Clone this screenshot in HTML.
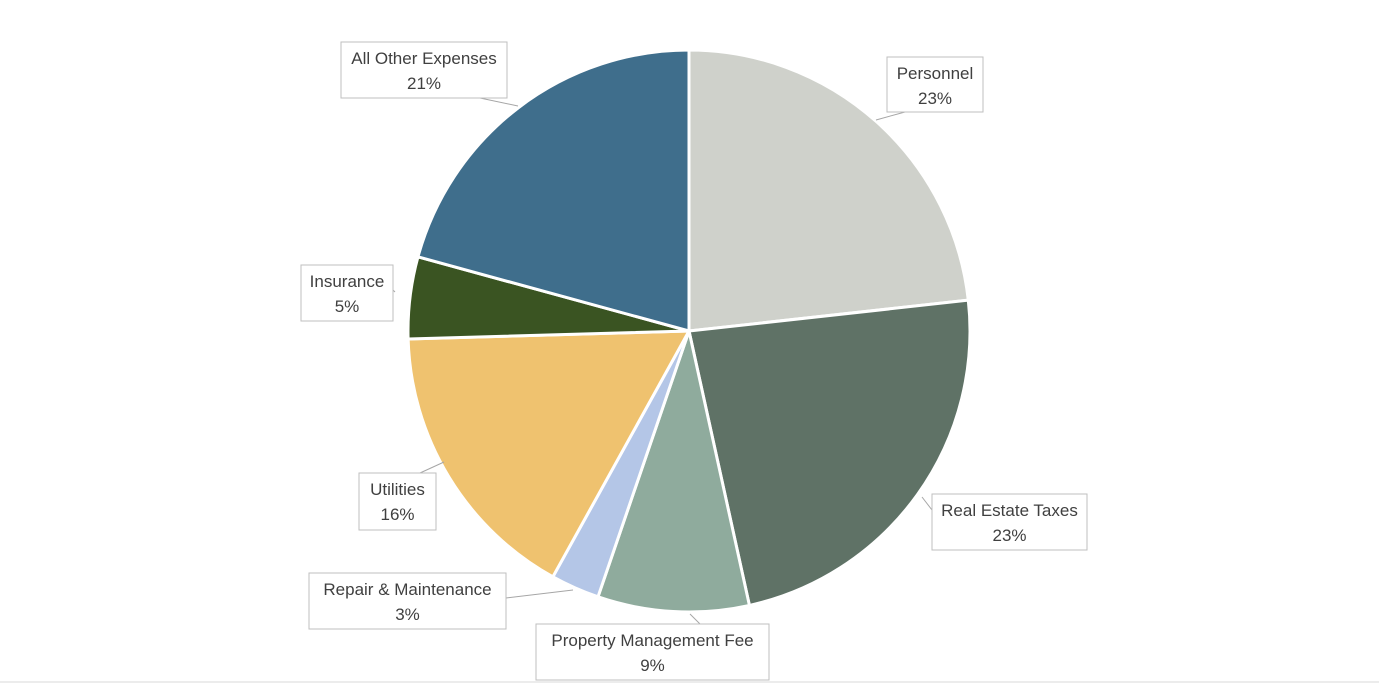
<!DOCTYPE html>
<html><head><meta charset="utf-8"><style>
body{margin:0;background:#fff;}
svg{display:block;font-family:"Liberation Sans",sans-serif;}
</style></head><body>
<svg id="chart" width="1379" height="683" viewBox="0 0 1379 683">
<line x1="0" y1="682" x2="1379" y2="682" stroke="#d9d9d9"/>
<g id="slices"></g><g id="labels"></g>
</svg>
<script>
const categories=["Personnel","Real Estate Taxes","Property Management Fee","Repair & Maintenance","Utilities","Insurance","All Other Expenses"];
const values=[23.25,23.3,8.7,2.8,16.5,4.7,20.75];
const pctLabels=["23%","23%","9%","3%","16%","5%","21%"];
const colors=["#cfd1cb","#5f7266","#8fab9d","#b4c6e7","#efc26f","#3a5422","#3f6e8c"];
const boxes=[[887,57,96,55],[932,494,155,56],[536,624,233,56],[309,573,197,56],[359,473,77,57],[301,265,92,56],[341,42,166,56]];
const leaders=[[905,112,876,120],[932,510,922,497],[700,624,690,614],[506,598,573,590],[420,473,444,462],[393,290,395,292],[480,98,518,106]];
const cx=689,cy=331,r=281,NS="http://www.w3.org/2000/svg";
const total=values.reduce((a,b)=>a+b,0);
const sg=document.getElementById('slices'),lg=document.getElementById('labels');
function pt(a){return [cx+r*Math.sin(a),cy-r*Math.cos(a)];}
let acc=0;
values.forEach((v,i)=>{
 const a0=acc/total*2*Math.PI;acc+=v;const a1=acc/total*2*Math.PI;
 const p0=pt(a0),p1=pt(a1);
 const p=document.createElementNS(NS,'path');
 p.setAttribute('d',`M${cx},${cy}L${p0[0]},${p0[1]}A${r},${r} 0 ${a1-a0>Math.PI?1:0} 1 ${p1[0]},${p1[1]}Z`);
 p.setAttribute('fill',colors[i]);p.setAttribute('stroke','#fff');p.setAttribute('stroke-width','3');
 
 
 sg.appendChild(p);
 const [bx,by,bw,bh]=boxes[i];
 const l=document.createElementNS(NS,'line');
 const L=leaders[i];
 l.setAttribute('x1',L[0]);l.setAttribute('y1',L[1]);l.setAttribute('x2',L[2]);l.setAttribute('y2',L[3]);
 l.setAttribute('stroke','#a6a6a6');
 
 
 lg.appendChild(l);
 const rc=document.createElementNS(NS,'rect');
 rc.setAttribute('x',bx);rc.setAttribute('y',by);rc.setAttribute('width',bw);rc.setAttribute('height',bh);
 rc.setAttribute('fill','#fff');rc.setAttribute('stroke','#bfbfbf');
 
 
 lg.appendChild(rc);
 [categories[i],pctLabels[i]].forEach((s,k)=>{
  const t=document.createElementNS(NS,'text');
  t.setAttribute('x',bx+bw/2);t.setAttribute('y',by+22+k*25);
  t.setAttribute('text-anchor','middle');t.setAttribute('font-size','17');t.setAttribute('fill','#404040');
  t.textContent=s;
  
  
  lg.appendChild(t);
 });
});
</script>
</body></html>
